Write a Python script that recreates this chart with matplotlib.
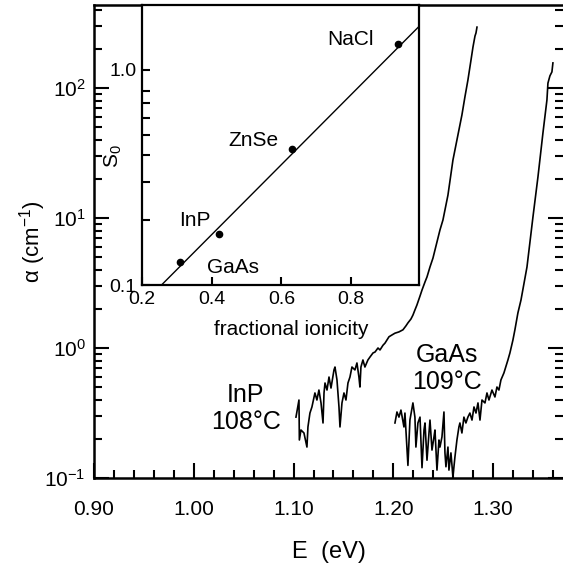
import numpy as np
import matplotlib
matplotlib.use('Agg')
import matplotlib.pyplot as plt
from matplotlib.ticker import MultipleLocator, FixedLocator, NullFormatter, FixedFormatter

plt.rcParams['font.family'] = ['Liberation Sans', 'DejaVu Sans']
plt.rcParams['mathtext.fontset'] = 'custom'
plt.rcParams['mathtext.rm'] = 'Liberation Sans'
plt.rcParams['mathtext.it'] = 'Liberation Sans:italic'

# InP absorption edge, 108 C
inp_E = [1.1024, 1.1054, 1.1058, 1.1074, 1.1104, 1.1134, 1.1144, 1.1164, 1.1184,
         1.1214, 1.1234, 1.1254, 1.1275, 1.1295, 1.1305, 1.1315, 1.1335, 1.1355,
         1.1375, 1.1405, 1.1415, 1.1435, 1.1455, 1.1465, 1.1485, 1.1505, 1.1525,
         1.1545, 1.1565, 1.1585, 1.1615, 1.1635, 1.1655, 1.1665, 1.1675, 1.1695,
         1.1715, 1.1745, 1.1766, 1.1796, 1.1816, 1.1846, 1.1866, 1.1896, 1.1916,
         1.1956, 1.1986, 1.2016, 1.2056, 1.2096, 1.2126, 1.2146, 1.2176, 1.2196,
         1.2216, 1.2236, 1.2267, 1.2287, 1.2317, 1.2337, 1.2367, 1.2397, 1.2467,
         1.2497, 1.2547, 1.2597, 1.2647, 1.2687, 1.2717, 1.2747, 1.2778, 1.2798,
         1.2818, 1.2828, 1.2838]
inp_a = [0.294, 0.398, 0.196, 0.234, 0.222, 0.173, 0.247, 0.316, 0.352,
         0.451, 0.398, 0.475, 0.378, 0.265, 0.451, 0.538, 0.475, 0.598,
         0.492, 0.678, 0.714, 0.568, 0.352, 0.247, 0.378, 0.451, 0.398,
         0.538, 0.598, 0.714, 0.678, 0.767, 0.598, 0.501, 0.714, 0.809,
         0.714, 0.809, 0.853, 0.916, 0.931, 1.00, 0.966, 1.05, 1.09,
         1.22, 1.26, 1.30, 1.33, 1.38, 1.48, 1.56, 1.67, 1.79,
         1.96, 2.14, 2.51, 2.79, 3.22, 3.52, 4.20, 4.92, 8.09,
         9.66, 15.0, 27.9, 43.5, 62.0, 85.3, 115, 164, 207,
         251, 265, 294]

# GaAs absorption edge, 109 C
gaas_E = [1.2016, 1.2036, 1.2056, 1.2076, 1.2106, 1.2116, 1.2146, 1.2166, 1.2196,
          1.2216, 1.2226, 1.2246, 1.2267, 1.2287, 1.2307, 1.2317, 1.2337, 1.2357,
          1.2367, 1.2387, 1.2407, 1.2417, 1.2437, 1.2457, 1.2467, 1.2487, 1.2507,
          1.2517, 1.2527, 1.2547, 1.2557, 1.2577, 1.2597, 1.2617, 1.2637, 1.2657,
          1.2667, 1.2687, 1.2707, 1.2727, 1.2747, 1.2767, 1.2788, 1.2808, 1.2828,
          1.2848, 1.2868, 1.2888, 1.2918, 1.2938, 1.2958, 1.2988, 1.3018, 1.3038,
          1.3058, 1.3078, 1.3108, 1.3148, 1.3168, 1.3198, 1.3218, 1.3248, 1.3279,
          1.3339, 1.3399, 1.3449, 1.3499, 1.3539, 1.3549, 1.3569, 1.3589, 1.3599]
gaas_a = [0.265, 0.322, 0.294, 0.333, 0.247, 0.316, 0.125, 0.279, 0.378,
          0.294, 0.173, 0.265, 0.294, 0.120, 0.234, 0.265, 0.137, 0.222,
          0.279, 0.164, 0.207, 0.234, 0.115, 0.196, 0.173, 0.207, 0.322,
          0.156, 0.122, 0.173, 0.115, 0.156, 0.102, 0.145, 0.196, 0.247,
          0.265, 0.222, 0.294, 0.265, 0.294, 0.316, 0.279, 0.352, 0.316,
          0.378, 0.279, 0.398, 0.378, 0.451, 0.398, 0.475, 0.420, 0.501,
          0.475, 0.568, 0.643, 0.809, 0.916, 1.15, 1.38, 1.86, 2.34,
          4.20, 10.2, 20.7, 45.1, 80.9, 109, 124, 133, 156]

# inset: S0 vs fractional ionicity
materials = ['GaAs', 'InP', 'ZnSe', 'NaCl']
ionicity = [0.310, 0.421, 0.630, 0.935]
s0 = [0.128, 0.173, 0.429, 1.32]
fit_x = [0.256, 1.0]
fit_y = [0.100, 1.62]

fig = plt.figure(figsize=(5.63, 5.67), dpi=100)
ax = fig.add_axes([94/563, 89/567, 469/563, 473/567])

ax.plot(inp_E, inp_a, color='black', lw=1.2)
ax.plot(gaas_E, gaas_a, color='black', lw=1.2)
ax.set_yscale('log')
ax.set_xlim(0.90, 1.37)
ax.set_ylim(0.1, 435)

ax.xaxis.set_major_locator(MultipleLocator(0.1))
ax.xaxis.set_minor_locator(MultipleLocator(0.02))
ax.xaxis.set_major_formatter(plt.FormatStrFormatter('%.2f'))
ax.tick_params(which='major', direction='in', length=11, width=1.5, labelsize=15, right=True)
ax.tick_params(which='minor', direction='in', length=5.5, width=1.5, right=True)
ax.tick_params(axis='x', which='major', pad=16)
ax.tick_params(axis='y', which='major', pad=6)
ax.spines['right'].set_visible(False)
for s in ['left', 'bottom', 'top']:
    ax.spines[s].set_linewidth(1.8)

ax.set_xlabel('E  (eV)', fontsize=17, labelpad=16)
ax.set_ylabel('α (cm$^{-1}$)', fontsize=16)
ax.yaxis.set_label_coords(-0.098, 0.5)

ax.text(1.052, 0.345, 'InP\n108°C', fontsize=18, ha='center', va='center', linespacing=1.15)
ax.text(1.254, 0.70, 'GaAs\n109°C', fontsize=18, ha='center', va='center', linespacing=1.15)

# inset
ins = fig.add_axes([142/563, 282/567, 277/563, 280/567])
ins.plot(fit_x, fit_y, color='black', lw=1.0)
ins.plot(ionicity, s0, 'o', color='black', ms=4.5)
ins.set_yscale('log')
ins.set_xlim(0.2, 0.995)
ins.set_ylim(0.1, 2.0)
ins.xaxis.set_major_locator(FixedLocator([0.2, 0.4, 0.6, 0.8]))
ins.xaxis.set_major_formatter(plt.FormatStrFormatter('%.1f'))
ins.yaxis.set_major_locator(FixedLocator([0.1, 1.0]))
ins.yaxis.set_major_formatter(FixedFormatter(['0.1', '1.0']))
ins.yaxis.set_minor_locator(FixedLocator([0.2, 0.3, 0.4, 0.5, 0.6, 0.7, 0.8]))
ins.yaxis.set_minor_formatter(NullFormatter())
ins.tick_params(which='both', direction='in', length=6, width=1.5, labelsize=14, pad=4)
for s in ins.spines.values():
    s.set_linewidth(1.6)
ins.set_xlabel('fractional ionicity', fontsize=15)
ins.xaxis.set_label_coords(0.54, -0.125)
ins.set_ylabel(r'S$_0$', fontsize=15)
ins.yaxis.set_label_coords(-0.065, 0.46)

lab_pos = {'GaAs': (0.461, 0.120), 'InP': (0.353, 0.200), 'ZnSe': (0.521, 0.47), 'NaCl': (0.798, 1.38)}
for name in materials:
    ins.text(lab_pos[name][0], lab_pos[name][1], name, fontsize=15, ha='center', va='center')

fig.savefig('out.png', dpi=100)
